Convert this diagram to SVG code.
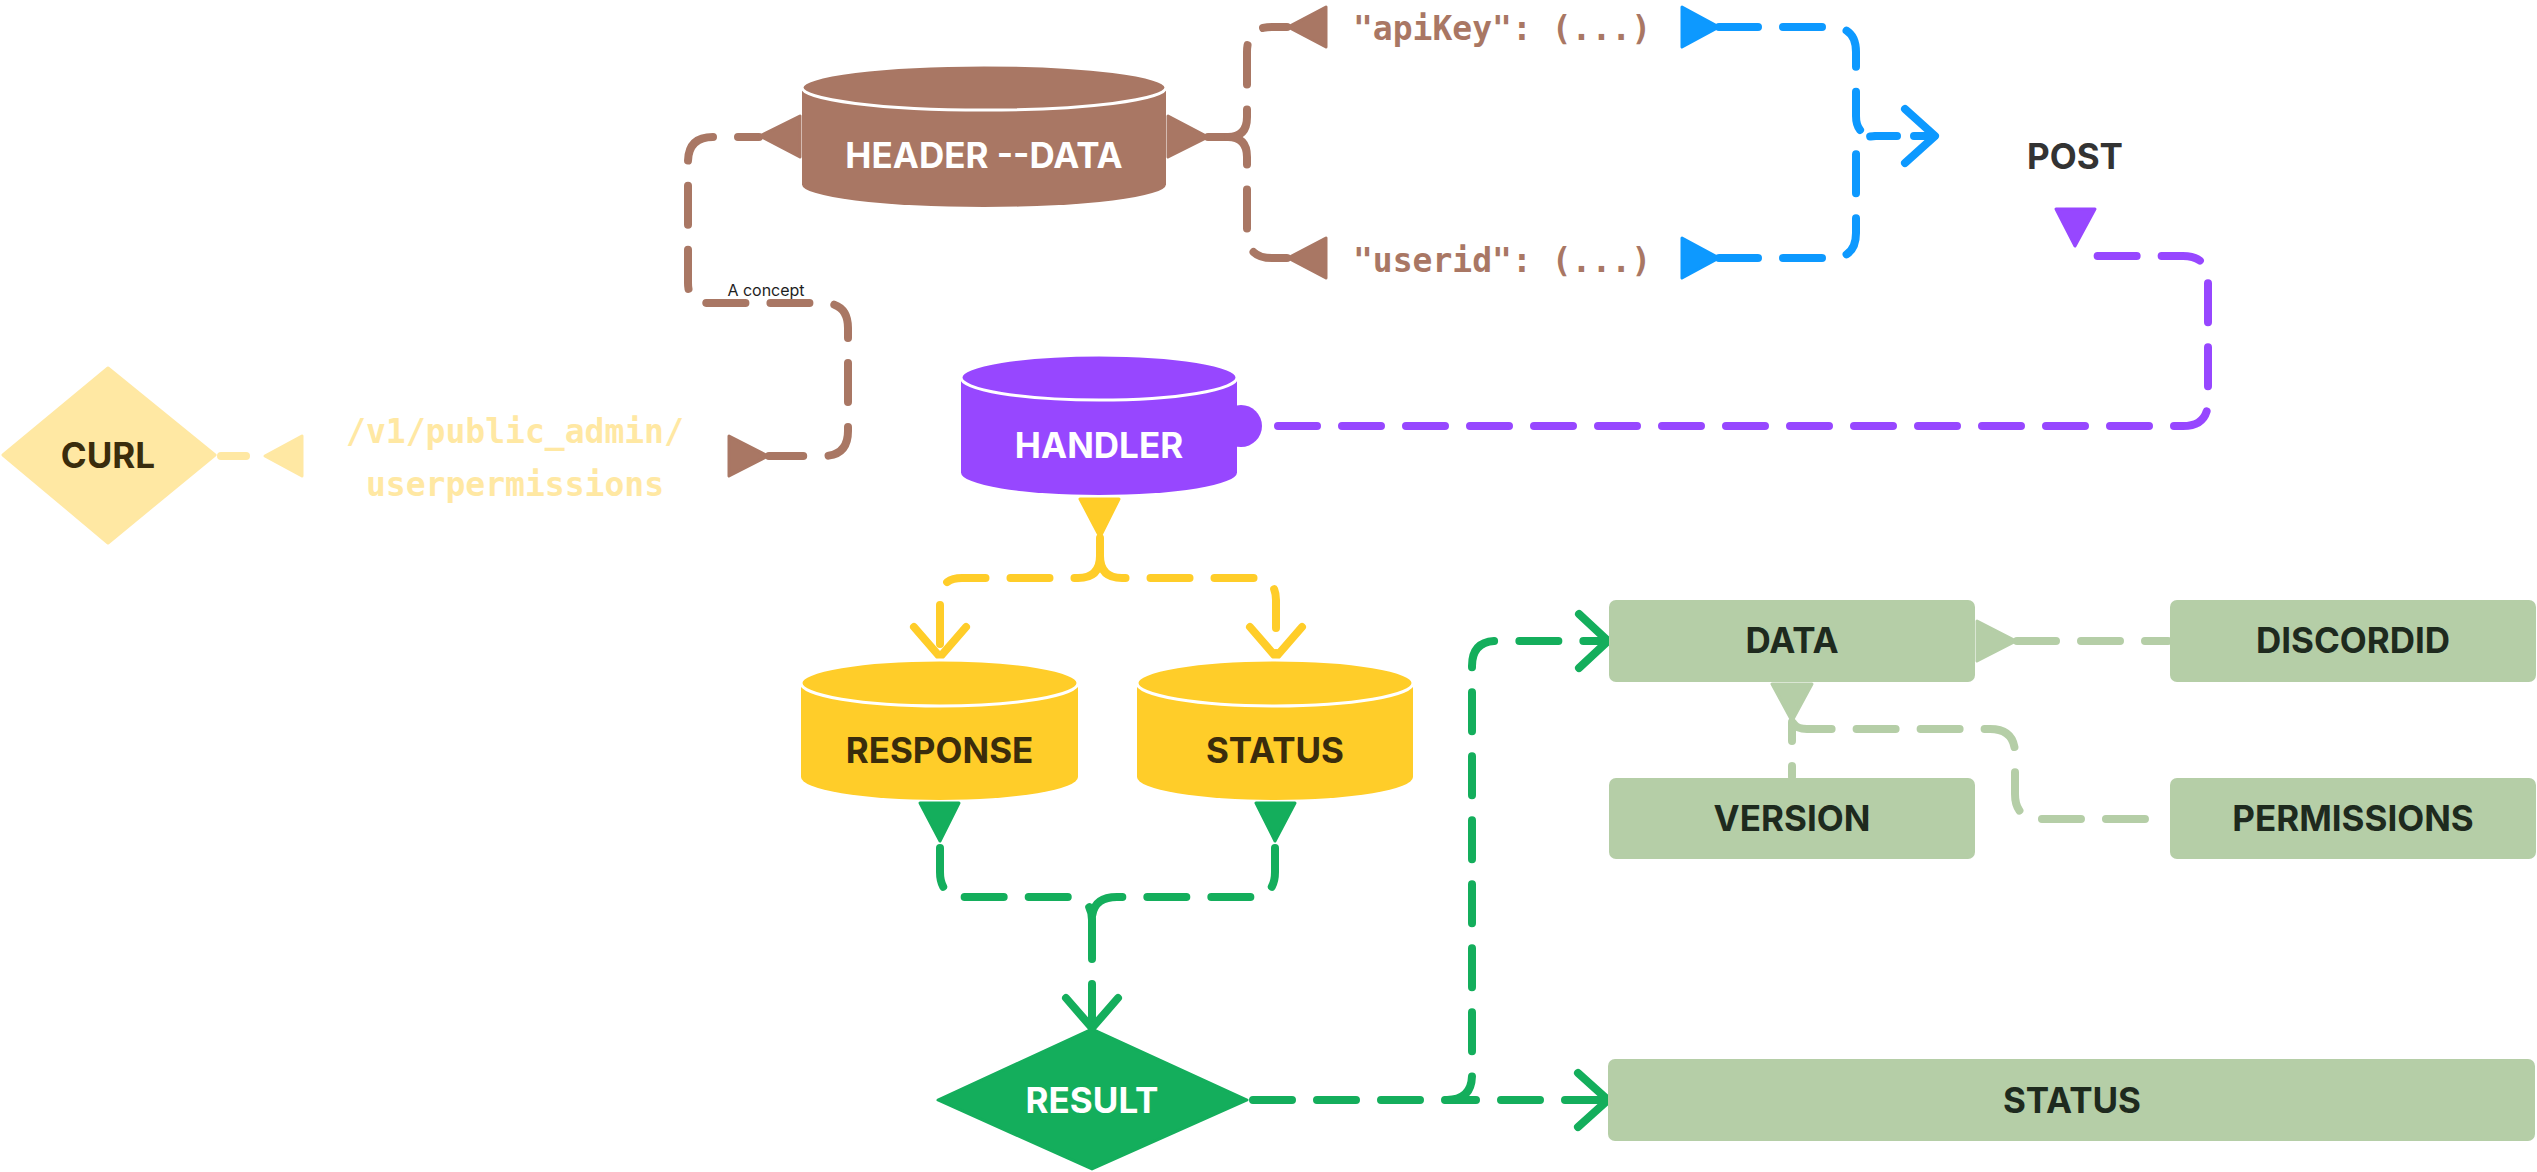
<svg xmlns="http://www.w3.org/2000/svg" width="2537" height="1172" viewBox="0 0 2537 1172">
<style>
.lbl{font-family:Inter,"Noto Sans","Liberation Sans",sans-serif;font-weight:700;font-size:35px;text-anchor:middle}
.mono{font-family:"DejaVu Sans Mono","Liberation Mono",monospace;font-weight:700;font-size:33px}
.small{font-family:Inter,"Noto Sans","Liberation Sans",sans-serif;font-size:16px;fill:#1e1e1e;text-anchor:middle}
.c{fill:none;stroke-width:8;stroke-linecap:round;stroke-linejoin:round;stroke-dasharray:39 25}
.h{fill:none;stroke-width:8;stroke-linecap:round;stroke-linejoin:round}
.t{stroke-width:3;stroke-linejoin:round}
.cap{stroke:#fff;stroke-width:3}
.brown{stroke:#A97764}.fbrown{fill:#A97764}
.blue{stroke:#0D99FF}.fblue{fill:#0D99FF}
.purple{stroke:#9747FF}.fpurple{fill:#9747FF}
.yellow{stroke:#FFCD29}.fyellow{fill:#FFCD29}
.lyellow{stroke:#FFE8A3}.flyellow{fill:#FFE8A3}
.green{stroke:#14AE5C}.fgreen{fill:#14AE5C}
.lgreen{stroke:#B5CEA7}.flgreen{fill:#B5CEA7}
.box{fill:#B5CEA7}
.dkg{fill:#1E2A1E}
.dky{fill:#3A2C0C}
</style>
<rect width="2537" height="1172" fill="#fff"/>

<g id="connectors">
  <!-- HEADER -> apiKey / userid -->
  <path class="h brown" d="M1208,137 L1228,137"/>
  <path class="c brown" d="M1228,137 Q1247,137 1247,117 L1247,52 Q1247,27 1272,27 L1287,27"/>
  <path class="c brown" d="M1228,137 Q1247,137 1247,157 L1247,233 Q1247,258 1272,258 L1287,258"/>
  <polygon class="t fbrown brown" points="1168,116 1208,137 1168,157"/>
  <polygon class="t fbrown brown" points="1288,27 1326,7 1326,47"/>
  <polygon class="t fbrown brown" points="1288,258 1326,238 1326,278"/>

  <!-- apiKey / userid -> POST -->
  <path class="c blue" d="M1719,27 L1831,27 Q1856,27 1856,52 L1856,116 Q1856,136 1876,136"/>
  <path class="c blue" d="M1719,258 L1831,258 Q1856,258 1856,233 L1856,156 Q1856,136 1876,136"/>
  <path class="h blue" d="M1876,136 L1897,136 M1914,136 L1933,136"/>
  <polygon class="t fblue blue" points="1682,7 1719,27 1682,47"/>
  <polygon class="t fblue blue" points="1682,238 1719,258 1682,278"/>
  <path class="h blue" d="M1905,109 L1935,136 L1905,163"/>

  <!-- HEADER -> path label -->
  <path class="c brown" d="M759,137 L713,137 Q688,137 688,162 L688,283 Q688,303 708,303 L823,303 Q848,303 848,328 L848,431 Q848,456 823,456 L769,456" stroke-dashoffset="18"/>
  <polygon class="t fbrown brown" points="760,136 800,116 800,157"/>
  <polygon class="t fbrown brown" points="729,436 768,456 729,476"/>
  <text class="small" x="766" y="296">A concept</text>

  <!-- path label -> CURL -->
  <path class="h lyellow" d="M221,456 L246,456"/>
  <polygon class="t flyellow lyellow" points="265,456 302,436 302,476"/>

  <!-- HANDLER -> POST -->
  <path class="c purple" d="M1262,426 L2183,426 Q2208,426 2208,401 L2208,281 Q2208,256 2183,256 L2095,256 Q2084,256 2077,249" stroke-dashoffset="-16"/>
  <circle class="fpurple" cx="1241" cy="426" r="21"/>
  <polygon class="t fpurple purple" points="2056,209 2095,209 2075,246"/>

  <!-- HANDLER -> RESPONSE / STATUS -->
  <path class="h yellow" d="M1100,538 L1100,556"/>
  <path class="c yellow" d="M1100,556 Q1100,578 1078,578 L962,578 Q940,578 940,600 L940,655"/>
  <path class="c yellow" d="M1100,556 Q1100,578 1122,578 L1254,578 Q1276,578 1276,600 L1276,655"/>
  <polygon class="t fyellow yellow" points="1080,499 1119,499 1100,537"/>
  <path class="h yellow" d="M914,627 L940,657 L966,627"/>
  <path class="h yellow" d="M1250,627 L1276,657 L1302,627"/>

  <!-- RESPONSE / STATUS -> RESULT -->
  <path class="c green" d="M940,848 L940,872 Q940,897 965,897 L1067,897 Q1092,897 1092,920"/>
  <path class="c green" d="M1275,848 L1275,872 Q1275,897 1250,897 L1117,897 Q1092,897 1092,920"/>
  <path class="c green" d="M1092,920 L1092,1026" stroke-dasharray="50 20"/>
  <polygon class="t fgreen green" points="920,803 959,803 940,841"/>
  <polygon class="t fgreen green" points="1256,803 1295,803 1275,841"/>
  <path class="h green" d="M1066,998 L1092,1028 L1118,998"/>

  <!-- RESULT -> DATA / STATUS -->
  <path class="c green" d="M1253,1100 L1447,1100"/>
  <path class="c green" d="M1447,1100 L1607,1100" stroke-dashoffset="10"/>
  <path class="c green" d="M1447,1100 Q1472,1100 1472,1075 L1472,666 Q1472,641 1497,641 L1607,641"/>
  <path class="h green" d="M1578,1073 L1608,1100 L1578,1127"/>
  <path class="h green" d="M1579,614 L1608,641 L1579,668"/>

  <!-- DATA -> DISCORDID -->
  <path class="c lgreen" d="M2017,641 L2168,641"/>
  <polygon class="t flgreen lgreen" points="1977,621 2016,641 1977,661"/>

  <!-- DATA -> VERSION / PERMISSIONS -->
  <path class="c lgreen" d="M1792,722 L1792,777" stroke-dashoffset="20"/>
  <path class="c lgreen" d="M1794,724 Q1797,729 1807,729 L1990,729 Q2015,729 2015,754 L2015,794 Q2015,819 2040,819 L2168,819"/>
  <polygon class="t flgreen lgreen" points="1772,684 1812,684 1792,721"/>
</g>

<g id="node-header-data">
  <path class="fbrown" d="M802,87.5 L802,184.5 A182,22.5 0 0 0 1166,184.5 L1166,87.5 Z"/>
  <ellipse class="fbrown cap" cx="984" cy="87.5" rx="182" ry="22.5"/>
  <text class="lbl" x="984" y="168" fill="#fff">HEADER --DATA</text>
</g>

<g id="node-apikey">
  <text class="mono" x="1353" y="40" fill="#A97764" xml:space="preserve">"apiKey": (...)</text>
</g>

<g id="node-userid">
  <text class="mono" x="1353" y="272" fill="#A97764" xml:space="preserve">"userid": (...)</text>
</g>

<g id="node-post">
  <text class="lbl" x="2075" y="169" fill="#333333">POST</text>
</g>

<g id="node-curl">
  <path class="flyellow lyellow t" d="M3,455 L108,368 L215,455 L108,543 Z"/>
  <text class="lbl dky" x="108" y="468">CURL</text>
</g>

<g id="node-path">
  <text class="mono" x="515" y="443" fill="#FFE8A3" text-anchor="middle">/v1/public_admin/</text>
  <text class="mono" x="515" y="496" fill="#FFE8A3" text-anchor="middle">userpermissions</text>
</g>

<g id="node-handler">
  <path class="fpurple" d="M961,377.5 L961,472.5 A138,22.5 0 0 0 1237,472.5 L1237,377.5 Z"/>
  <ellipse class="fpurple cap" cx="1099" cy="377.5" rx="138" ry="22.5"/>
  <text class="lbl" x="1099" y="458" fill="#fff">HANDLER</text>
</g>

<g id="node-response">
  <path class="fyellow" d="M801,683 L801,777 A138.5,23 0 0 0 1078,777 L1078,683 Z"/>
  <ellipse class="fyellow cap" cx="939.5" cy="683" rx="138.5" ry="23"/>
  <text class="lbl dky" x="939.5" y="763">RESPONSE</text>
</g>

<g id="node-status-cyl">
  <path class="fyellow" d="M1137,683 L1137,777 A138,23 0 0 0 1413,777 L1413,683 Z"/>
  <ellipse class="fyellow cap" cx="1275" cy="683" rx="138" ry="23"/>
  <text class="lbl dky" x="1275" y="763">STATUS</text>
</g>

<g id="node-result">
  <path class="fgreen green t" d="M938,1100 L1092,1029 L1247,1100 L1092,1169 Z"/>
  <text class="lbl" x="1092" y="1113" fill="#fff">RESULT</text>
</g>

<g id="node-data">
  <rect class="box" x="1609" y="600" width="366" height="82" rx="7"/>
  <text class="lbl dkg" x="1792" y="653">DATA</text>
</g>

<g id="node-discordid">
  <rect class="box" x="2170" y="600" width="366" height="82" rx="7"/>
  <text class="lbl dkg" x="2353" y="653">DISCORDID</text>
</g>

<g id="node-version">
  <rect class="box" x="1609" y="778" width="366" height="81" rx="7"/>
  <text class="lbl dkg" x="1792" y="831">VERSION</text>
</g>

<g id="node-permissions">
  <rect class="box" x="2170" y="778" width="366" height="81" rx="7"/>
  <text class="lbl dkg" x="2353" y="831">PERMISSIONS</text>
</g>

<g id="node-status-box">
  <rect class="box" x="1608" y="1059" width="927" height="82" rx="7"/>
  <text class="lbl dkg" x="2072" y="1113">STATUS</text>
</g>
</svg>
